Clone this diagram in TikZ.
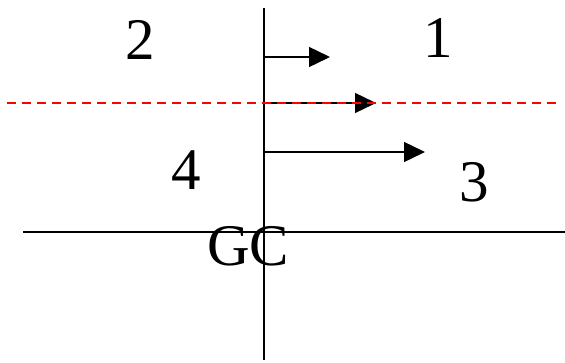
\documentclass[tikz,border=0pt]{standalone}
\usepackage{fontspec}
\setmainfont{Liberation Serif}
\usetikzlibrary{arrows.meta}
\begin{document}
\begin{tikzpicture}[x=1pt,y=-1pt,line width=1.4pt,line join=round,
		font=\fontsize{59}{62}\selectfont,
		arr/.style={-{Triangle[length=21pt,width=20pt]}},
		lab/.style={inner sep=0pt}]
			\useasboundingbox (0,0) rectangle (565,362);
			% axes
			\coordinate (top) at (264,8); \coordinate (bot) at (264,360);
			\coordinate (left) at (23,232); \coordinate (right) at (565,232);
			\draw (top)--(bot) (left)--(right);
			% arrows
			\coordinate (a1) at (264,57); \coordinate (e1) at (330,57);
			\coordinate (a2) at (264,103); \coordinate (e2) at (376,103);
			\coordinate (a3) at (264,152); \coordinate (e3) at (425,152);
			\draw[arr] (a1)--(e1);
			\draw[arr] (a2)--(e2);
			\draw[arr] (a3)--(e3);
			\coordinate (dl) at (7,103); \coordinate (dr) at (556,103);
			\draw[red,dash pattern=on 9pt off 6pt] (dl)--(dr);
			% labels
			\node[lab] (n2) at (140,40) {2};
			\node[lab] (n1) at (438,38) {1};
			\node[lab] (n4) at (186,170) {4};
			\node[lab] (n3) at (474,182) {3};
			\node[lab] (gc) at (248,246) {GC};
		\end{tikzpicture}
\end{document}
